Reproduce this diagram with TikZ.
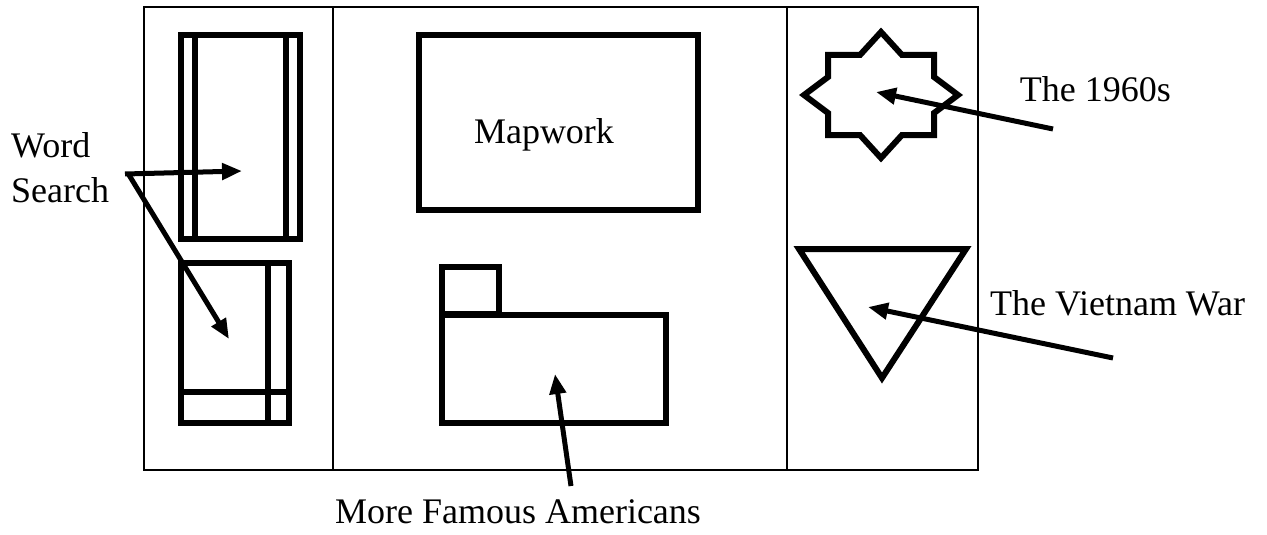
\documentclass[tikz,border=0pt]{standalone}
\usepackage{fontspec}
\setmainfont{Liberation Serif}
\usetikzlibrary{arrows.meta}
\begin{document}
\begin{tikzpicture}[x=1pt,y=-1pt,
  frame/.style={line width=2pt},
  thickline/.style={line width=6pt},
  arr/.style={line width=5pt,-{Triangle[length=20pt,width=16pt]}},
  lbl/.style={inner sep=0pt,font=\fontsize{36}{40}\selectfont}]
\useasboundingbox (0,0) rectangle (1267,535);
% frame
\draw[frame] (144,7) rectangle (978,470);
\draw[frame] (333,7) -- (333,470);
\draw[frame] (787,7) -- (787,470);
% left top rect
\draw[thickline] (181,35) rectangle (300,239);
\draw[thickline] (195,35) -- (195,239);
\draw[thickline] (286,35) -- (286,239);
% left bottom rect
\draw[thickline] (181,263) rectangle (289,423);
\draw[thickline] (268,263) -- (268,423);
\draw[thickline] (181,392) -- (289,392);
% mapwork
\draw[thickline] (419,35) rectangle (698,210);
\node[lbl,anchor=base] (map) at (544,143) {Mapwork};
% folder
\draw[thickline] (442,267) rectangle (499,314);
\draw[thickline] (442,315) rectangle (666,423);
% star
\begin{scope}[shift={(881,95)}]
\draw[thickline] (0,63) -- (21,40) -- (53,40) -- (53,18) -- (77,0) -- (53,-18) -- (53,-40) -- (21,-40) -- (0,-63) -- (-21,-40) -- (-53,-40) -- (-53,-18) -- (-77,0) -- (-53,18) -- (-53,40) -- (-21,40) -- cycle;
\end{scope}
% triangle
\draw[thickline] (799,249) -- (966,249) -- (882,378) -- cycle;
% labels
\node[lbl,anchor=base west] (word) at (11,157) {Word};
\node[lbl,anchor=base west] (search) at (11,202) {Search};
\node[lbl,anchor=base east] (sixties) at (1171,101) {The 1960s};
\node[lbl,anchor=base west] (viet) at (990,315) {The Vietnam War};
\node[lbl,anchor=base] (amer) at (518,523) {More Famous Americans};
% arrow endpoints
\coordinate (ws1) at (125,174);
\coordinate (ws2) at (129,175);
\coordinate (t1) at (242,171);
\coordinate (t2) at (229,339);
\coordinate (s1) at (1053,129);
\coordinate (st) at (876,92);
\coordinate (v1) at (1113,358);
\coordinate (vt) at (868,307);
\coordinate (a1) at (571,486);
\coordinate (at1) at (555,374);
\draw[arr] (ws1) -- (t1);
\draw[arr] (ws2) -- (t2);
\draw[arr] (s1) -- (st);
\draw[arr] (v1) -- (vt);
\draw[arr] (a1) -- (at1);
\end{tikzpicture}
\end{document}
